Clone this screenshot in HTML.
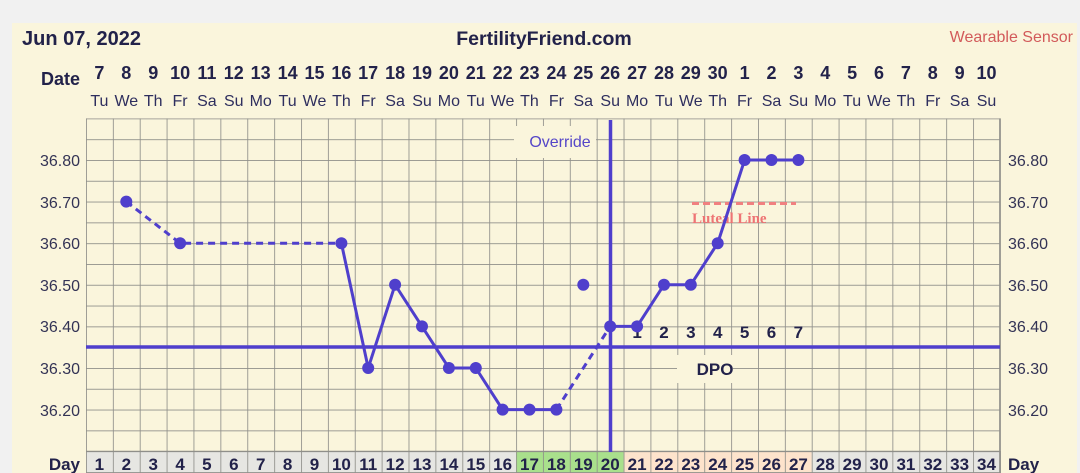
<!DOCTYPE html>
<html><head><meta charset="utf-8"><style>
html,body{margin:0;padding:0;background:#f1f1f1;width:1080px;height:473px;overflow:hidden}
svg{display:block}
text{font-family:"Liberation Sans",sans-serif}
</style></head><body>
<svg width="1080" height="473" viewBox="0 0 1080 473" xmlns="http://www.w3.org/2000/svg">
<defs>
<pattern id="g" x="86" y="118.4" width="26.88" height="20.8" patternUnits="userSpaceOnUse">
<path d="M0 0V20.8M0 0H26.88" stroke="#8f8f8a" stroke-width="1.7" fill="none"/>
</pattern>
</defs>
<rect x="12" y="23" width="1065" height="450" fill="#faf5dc"/>
<rect x="86" y="118.4" width="914" height="333.2" fill="url(#g)"/>
<line x1="1000" y1="118.4" x2="1000" y2="473" stroke="#8f8f8a" stroke-width="1.7"/>
<line x1="86" y1="451.6" x2="1000" y2="451.6" stroke="#8f8f8a" stroke-width="1.7"/>
<rect x="86" y="452" width="430" height="21" fill="#e6e6e2"/>
<rect x="516" y="452" width="107.5" height="21" fill="#a9e08c"/>
<rect x="623.5" y="452" width="188.2" height="21" fill="#fde3cc"/>
<rect x="811.7" y="452" width="188.3" height="21" fill="#e6e6e2"/>
<rect x="86" y="451.6" width="914" height="21.4" fill="url(#g)"/>
<line x1="1000" y1="451" x2="1000" y2="473" stroke="#8f8f8a" stroke-width="1.7"/>

<text x="22" y="45" font-size="20" font-weight="bold" fill="#22224a">Jun 07, 2022</text>
<text x="544" y="45" font-size="19.5" font-weight="bold" fill="#22224a" text-anchor="middle">FertilityFriend.com</text>
<text x="1073" y="42" font-size="16" fill="#d25a5a" text-anchor="end">Wearable Sensor</text>
<text x="80" y="85" font-size="18" font-weight="bold" fill="#22224a" text-anchor="end">Date</text>

<g font-size="18" font-weight="bold" fill="#22224a" text-anchor="middle">
<text x="99.4" y="79">7</text><text x="126.3" y="79">8</text><text x="153.2" y="79">9</text><text x="180.1" y="79">10</text><text x="206.9" y="79">11</text><text x="233.8" y="79">12</text><text x="260.7" y="79">13</text><text x="287.6" y="79">14</text><text x="314.5" y="79">15</text><text x="341.4" y="79">16</text><text x="368.2" y="79">17</text><text x="395.1" y="79">18</text><text x="422" y="79">19</text><text x="448.9" y="79">20</text><text x="475.8" y="79">21</text><text x="502.6" y="79">22</text><text x="529.5" y="79">23</text><text x="556.4" y="79">24</text><text x="583.3" y="79">25</text><text x="610.2" y="79">26</text><text x="637.1" y="79">27</text><text x="664" y="79">28</text><text x="690.8" y="79">29</text><text x="717.7" y="79">30</text><text x="744.6" y="79">1</text><text x="771.5" y="79">2</text><text x="798.4" y="79">3</text><text x="825.2" y="79">4</text><text x="852.1" y="79">5</text><text x="879" y="79">6</text><text x="905.9" y="79">7</text><text x="932.8" y="79">8</text><text x="959.6" y="79">9</text><text x="986.5" y="79">10</text>
</g>
<g font-size="16" fill="#2e2e5e" text-anchor="middle">
<text x="99.4" y="106">Tu</text><text x="126.3" y="106">We</text><text x="153.2" y="106">Th</text><text x="180.1" y="106">Fr</text><text x="206.9" y="106">Sa</text><text x="233.8" y="106">Su</text><text x="260.7" y="106">Mo</text><text x="287.6" y="106">Tu</text><text x="314.5" y="106">We</text><text x="341.4" y="106">Th</text><text x="368.2" y="106">Fr</text><text x="395.1" y="106">Sa</text><text x="422" y="106">Su</text><text x="448.9" y="106">Mo</text><text x="475.8" y="106">Tu</text><text x="502.6" y="106">We</text><text x="529.5" y="106">Th</text><text x="556.4" y="106">Fr</text><text x="583.3" y="106">Sa</text><text x="610.2" y="106">Su</text><text x="637.1" y="106">Mo</text><text x="664" y="106">Tu</text><text x="690.8" y="106">We</text><text x="717.7" y="106">Th</text><text x="744.6" y="106">Fr</text><text x="771.5" y="106">Sa</text><text x="798.4" y="106">Su</text><text x="825.2" y="106">Mo</text><text x="852.1" y="106">Tu</text><text x="879" y="106">We</text><text x="905.9" y="106">Th</text><text x="932.8" y="106">Fr</text><text x="959.6" y="106">Sa</text><text x="986.5" y="106">Su</text>
</g>

<g font-size="16" fill="#333355">
<g text-anchor="end">
<text x="80" y="166">36.80</text><text x="80" y="208">36.70</text><text x="80" y="249">36.60</text><text x="80" y="291">36.50</text><text x="80" y="332">36.40</text><text x="80" y="374">36.30</text><text x="80" y="416">36.20</text>
</g>
<text x="1008" y="166">36.80</text><text x="1008" y="208">36.70</text><text x="1008" y="249">36.60</text><text x="1008" y="291">36.50</text><text x="1008" y="332">36.40</text><text x="1008" y="374">36.30</text><text x="1008" y="416">36.20</text>
</g>

<text x="80" y="470" font-size="17" font-weight="bold" fill="#22224a" text-anchor="end">Day</text>
<text x="1008" y="470" font-size="17" font-weight="bold" fill="#22224a">Day</text>
<g font-size="17" font-weight="bold" fill="#22224a" text-anchor="middle">
<text x="99.4" y="470">1</text><text x="126.3" y="470">2</text><text x="153.2" y="470">3</text><text x="180.1" y="470">4</text><text x="206.9" y="470">5</text><text x="233.8" y="470">6</text><text x="260.7" y="470">7</text><text x="287.6" y="470">8</text><text x="314.5" y="470">9</text><text x="341.4" y="470">10</text><text x="368.2" y="470">11</text><text x="395.1" y="470">12</text><text x="422" y="470">13</text><text x="448.9" y="470">14</text><text x="475.8" y="470">15</text><text x="502.6" y="470">16</text><text x="529.5" y="470">17</text><text x="556.4" y="470">18</text><text x="583.3" y="470">19</text><text x="610.2" y="470">20</text><text x="637.1" y="470">21</text><text x="664" y="470">22</text><text x="690.8" y="470">23</text><text x="717.7" y="470">24</text><text x="744.6" y="470">25</text><text x="771.5" y="470">26</text><text x="798.4" y="470">27</text><text x="825.2" y="470">28</text><text x="852.1" y="470">29</text><text x="879" y="470">30</text><text x="905.9" y="470">31</text><text x="932.8" y="470">32</text><text x="959.6" y="470">33</text><text x="986.5" y="470">34</text>
</g>

<rect x="514" y="126" width="82" height="32" fill="#faf5dc"/>
<text x="560" y="147" font-size="16" fill="#5546c8" text-anchor="middle">Override</text>
<rect x="677" y="355" width="56" height="28" fill="#faf5dc"/>
<text x="715" y="375" font-size="17" font-weight="bold" fill="#22224a" text-anchor="middle">DPO</text>

<line x1="692" y1="203.5" x2="796" y2="203.5" stroke="#f08080" stroke-width="3" stroke-dasharray="7,4"/>
<text x="692" y="223" font-size="15" font-weight="bold" fill="#ee7474" style="font-family:'Liberation Serif',serif">Luteal Line</text>

<line x1="86" y1="347" x2="1000" y2="347" stroke="#4f3fcc" stroke-width="3.5"/>
<line x1="610.5" y1="120" x2="610.5" y2="452" stroke="#4f3fcc" stroke-width="3.5"/>

<g font-size="17" font-weight="bold" fill="#22224a" text-anchor="middle" style="font-family:'Liberation Serif',serif">
<text x="637.1" y="338">1</text><text x="664" y="338">2</text><text x="690.8" y="338">3</text><text x="717.7" y="338">4</text><text x="744.6" y="338">5</text><text x="771.5" y="338">6</text><text x="798.4" y="338">7</text>
</g>

<g stroke="#4f3fcc" stroke-width="3" fill="none">
<polyline points="126.3,201.6 180.1,243.2 341.4,243.2" stroke-dasharray="7,5"/>
<polyline points="556.4,409.6 610.2,326.4" stroke-dasharray="7,5"/>
<polyline points="341.4,243.2 368.2,368 395.1,284.8 422,326.4 448.9,368 475.8,368 502.6,409.6 529.5,409.6 556.4,409.6"/>
<polyline points="610.2,326.4 637.1,326.4 664,284.8 690.8,284.8 717.7,243.2 744.6,160 771.5,160 798.4,160"/>
</g>
<g fill="#4f3fcc">
<circle cx="126.3" cy="201.6" r="6"/><circle cx="180.1" cy="243.2" r="6"/><circle cx="341.4" cy="243.2" r="6"/><circle cx="368.2" cy="368" r="6"/><circle cx="395.1" cy="284.8" r="6"/><circle cx="422" cy="326.4" r="6"/><circle cx="448.9" cy="368" r="6"/><circle cx="475.8" cy="368" r="6"/><circle cx="502.6" cy="409.6" r="6"/><circle cx="529.5" cy="409.6" r="6"/><circle cx="556.4" cy="409.6" r="6"/><circle cx="583.3" cy="284.8" r="6"/><circle cx="610.2" cy="326.4" r="6"/><circle cx="637.1" cy="326.4" r="6"/><circle cx="664" cy="284.8" r="6"/><circle cx="690.8" cy="284.8" r="6"/><circle cx="717.7" cy="243.2" r="6"/><circle cx="744.6" cy="160" r="6"/><circle cx="771.5" cy="160" r="6"/><circle cx="798.4" cy="160" r="6"/>
</g>
</svg>
</body></html>
